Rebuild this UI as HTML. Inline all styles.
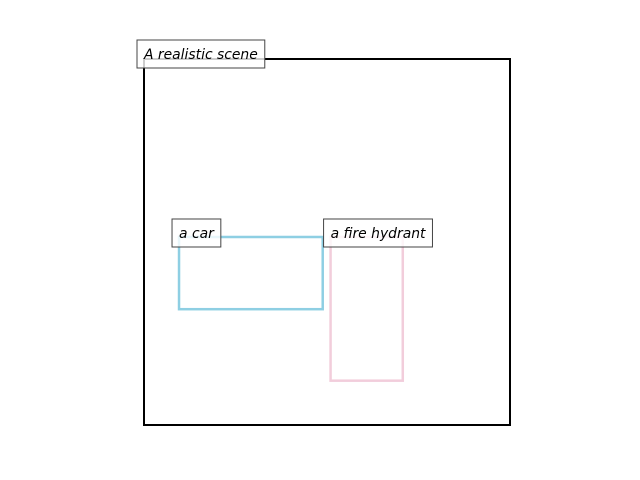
<!DOCTYPE html>
<html><head><meta charset="utf-8"><style>
html,body{margin:0;padding:0;background:#fff;}
svg{display:block;}
text{font-family:"DejaVu Sans","Liberation Sans",sans-serif;font-style:italic;font-size:13.9px;}
</style></head><body>
<svg id="chart" width="640" height="480" xmlns="http://www.w3.org/2000/svg"></svg>
<script>
const sceneLabels = ["A realistic scene"];
const boxLabels = ["a car", "a fire hydrant"];
const boxX0 = [49, 261];
const boxY0 = [249, 249];
const boxX1 = [250, 362];
const boxY1 = [350, 450];
const boxColors = ["#8ecfe3", "#f2cddb"];
const domainMax = 512;

const svg = document.getElementById('chart');
const NS = 'http://www.w3.org/2000/svg';
const left = 144, top0 = 59, size = 366;
function sx(v){ return left + v / domainMax * size; }
function sy(v){ return top0 + v / domainMax * size; }

function el(tag, attrs){ const e = document.createElementNS(NS, tag); for (const k in attrs) e.setAttribute(k, attrs[k]); svg.appendChild(e); return e; }

const frame = el('rect', {x: sx(0), y: sy(0), width: sx(domainMax)-sx(0), height: sy(domainMax)-sy(0), fill: 'none', stroke: '#000', 'stroke-width': 2});



function label(txt, x, y, name){
  const t = el('text', {x: x + 7, y: y + 19, fill: '#000'});
  t.textContent = txt;
  const w = t.getComputedTextLength();
  svg.removeChild(t);
  const r = el('rect', {x: x, y: y, width: w + 14, height: 28, fill: 'rgba(255,255,255,0.8)', stroke: '#444', 'stroke-width': 1});
  
  
  svg.appendChild(t);
  
  
}

for (let i = 0; i < boxLabels.length; i++){
  const r = el('rect', {x: sx(boxX0[i]), y: sy(boxY0[i]), width: sx(boxX1[i]) - sx(boxX0[i]), height: sy(boxY1[i]) - sy(boxY0[i]), fill: 'none', stroke: boxColors[i], 'stroke-width': 2.5});
  
  
}
label(sceneLabels[0], sx(0) - 7, sy(0) - 19, 'scene-caption');
for (let i = 0; i < boxLabels.length; i++){
  label(boxLabels[i], sx(boxX0[i]) - 7, sy(boxY0[i]) - 18, 'box-label-' + i);
}
</script>
</body></html>
